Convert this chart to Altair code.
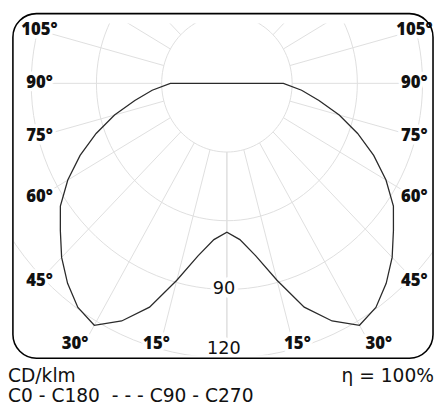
import altair as alt
import pandas as pd

# ---- data (cd/klm) ----
gamma = list(range(0, 185, 5))  # gamma angle, 0 = nadir
intensity_c0 = [65, 68.5, 76.5, 89, 104, 114.5, 122, 119.5, 114, 107.5,
                100, 93.5, 84.5, 74.5, 64, 53.5, 43, 34.5, 26] + [0] * 18
intensity_c180 = [65, 68.5, 76.5, 89, 104, 114.5, 122, 119.5, 114, 107.5,
                  100, 93.5, 84.5, 74.5, 64, 53.5, 43, 34.5, 26] + [0] * 18
ring_values = [30, 60, 90, 120]
ring_labels = [90, 120]
spoke_angles = list(range(0, 181, 15))
angle_labels = [15, 30, 45, 60, 75, 90, 105]
footer_left = ["CD/klm", "C0 - C180\u00a0 - - - C90 - C270"]
footer_right = ["\u03b7 = 100%"]

FONT = "DejaVu Sans"
LFONT = "Open Sans"

# curve table: C180 side (left) from 180 down to 0, then C0 side (right)
rows = []
for g, v in reversed(list(zip(gamma, intensity_c180))):
    rows.append({"side": -1, "g": g, "I": v})
for g, v in zip(gamma, intensity_c0):
    rows.append({"side": 1, "g": g, "I": v})
curve_df = pd.DataFrame(rows)
curve_df["o"] = range(len(curve_df))

xs = alt.Scale(domain=[-97.97, 94.81], nice=False, zero=False)
ys = alt.Scale(domain=[-118.73, 26.15], nice=False, zero=False)


def X(f):
    return alt.X(f, type="quantitative", scale=xs, axis=None)


def Y(f):
    return alt.Y(f, type="quantitative", scale=ys, axis=None)


grid_col = "#dedede"

rings = (
    alt.Chart(pd.DataFrame({"r": ring_values}))
    .transform_calculate(t="sequence(0, 363, 3)")
    .transform_flatten(["t"])
    .transform_calculate(
        X="datum.r*sin(datum.t*PI/180)", Y="datum.r*cos(datum.t*PI/180)"
    )
    .mark_line(color=grid_col, strokeWidth=1, clip=True)
    .encode(x=X("X"), y=Y("Y"), detail="r:N", order="t:Q")
)

spokes = (
    alt.Chart(pd.DataFrame({"a": spoke_angles}))
    .transform_calculate(s="[-1, 1]")
    .transform_flatten(["s"])
    .transform_calculate(rad="datum.a*PI/180")
    .transform_calculate(
        R="min(86.2/abs(sin(datum.rad)), datum.a < 90 ? 114/cos(datum.rad) : 10000)"
    )
    .transform_calculate(
        X0="datum.s*30*sin(datum.rad)",
        Y0="-30*cos(datum.rad)",
        X1="datum.s*datum.R*sin(datum.rad)",
        Y1="-datum.R*cos(datum.rad)",
    )
    .mark_rule(color=grid_col, strokeWidth=1, clip=True)
    .encode(x=X("X0"), y=Y("Y0"), x2="X1:Q", y2="Y1:Q")
)

curve = (
    alt.Chart(curve_df)
    .transform_calculate(
        X="datum.side*datum.I*sin(datum.g*PI/180)",
        Y="-datum.I*cos(datum.g*PI/180)",
    )
    .mark_line(color="#2a2a2a", strokeWidth=1.3)
    .encode(x=X("X"), y=Y("Y"), order="o:Q")
)

lab_base = (
    alt.Chart(pd.DataFrame({"a": angle_labels}))
    .transform_calculate(s="[-1, 1]")
    .transform_flatten(["s"])
    .transform_calculate(rad="datum.a*PI/180")
    .transform_calculate(
        X="datum.s*(datum.a <= 30 ? 121*tan(datum.rad) : 86.2)",
        Y="datum.a <= 30 ? -114 : -86.2*cos(datum.rad)/sin(datum.rad)",
        txt="datum.a + '\u00b0'",
    )
    .encode(x=X("X"), y=Y("Y"), text="txt:N")
)
lab_halo = lab_base.mark_text(font=LFONT, fontSize=17, fontWeight=800,
                              baseline="middle", align="center",
                              color="white", stroke="white", strokeWidth=7)
lab_text = lab_base.mark_text(font=LFONT, fontSize=17, fontWeight=800,
                              baseline="middle", align="center", color="#111111")

rl_base = (
    alt.Chart(pd.DataFrame({"r": ring_labels}))
    .transform_calculate(X="0", Y="-min(datum.r, 116)", txt="'' + datum.r")
    .encode(x=X("X"), y=Y("Y"), text="txt:N")
)
rl_halo = rl_base.mark_text(font=FONT, fontSize=18, baseline="middle", align="center",
                            dx=-3, color="white", stroke="white", strokeWidth=8)
rl_text = rl_base.mark_text(font=FONT, fontSize=18, baseline="middle", align="center",
                            dx=-3, color="#111111")

frame = (
    alt.Chart(pd.DataFrame({"k": [0]}))
    .mark_rect(filled=False, color="black", strokeWidth=1.6, cornerRadius=24, clip=False)
    .encode(x=alt.value(-1), x2=alt.value(427), y=alt.value(-10), y2=alt.value(341))
)

foot_l = (
    alt.Chart(pd.DataFrame({"t": footer_left, "row": [0, 1]}))
    .transform_calculate(py="359 + 21*datum.row")
    .mark_text(font=FONT, fontSize=19, align="left", baseline="middle", color="#111111")
    .encode(x=alt.value(-6), y=alt.Y("py:Q", scale=None), text="t:N")
)
foot_r = (
    alt.Chart(pd.DataFrame({"t": footer_right}))
    .mark_text(font=FONT, fontSize=19, align="right", baseline="middle", color="#111111")
    .encode(x=alt.value(428), y=alt.value(359), text="t:N")
)

chart = (
    alt.layer(rings, spokes, curve, lab_halo, lab_text, rl_halo, rl_text, frame, foot_l, foot_r)
    .properties(
        width=427,
        height=338,
        padding={"left": 6, "top": 12, "right": 1, "bottom": 48},
        autosize=alt.AutoSizeParams(type="none"),
        background="white",
    )
    .configure_view(stroke=None)
)

chart.save("out.html", embed_options={"renderer": "svg", "actions": False})
